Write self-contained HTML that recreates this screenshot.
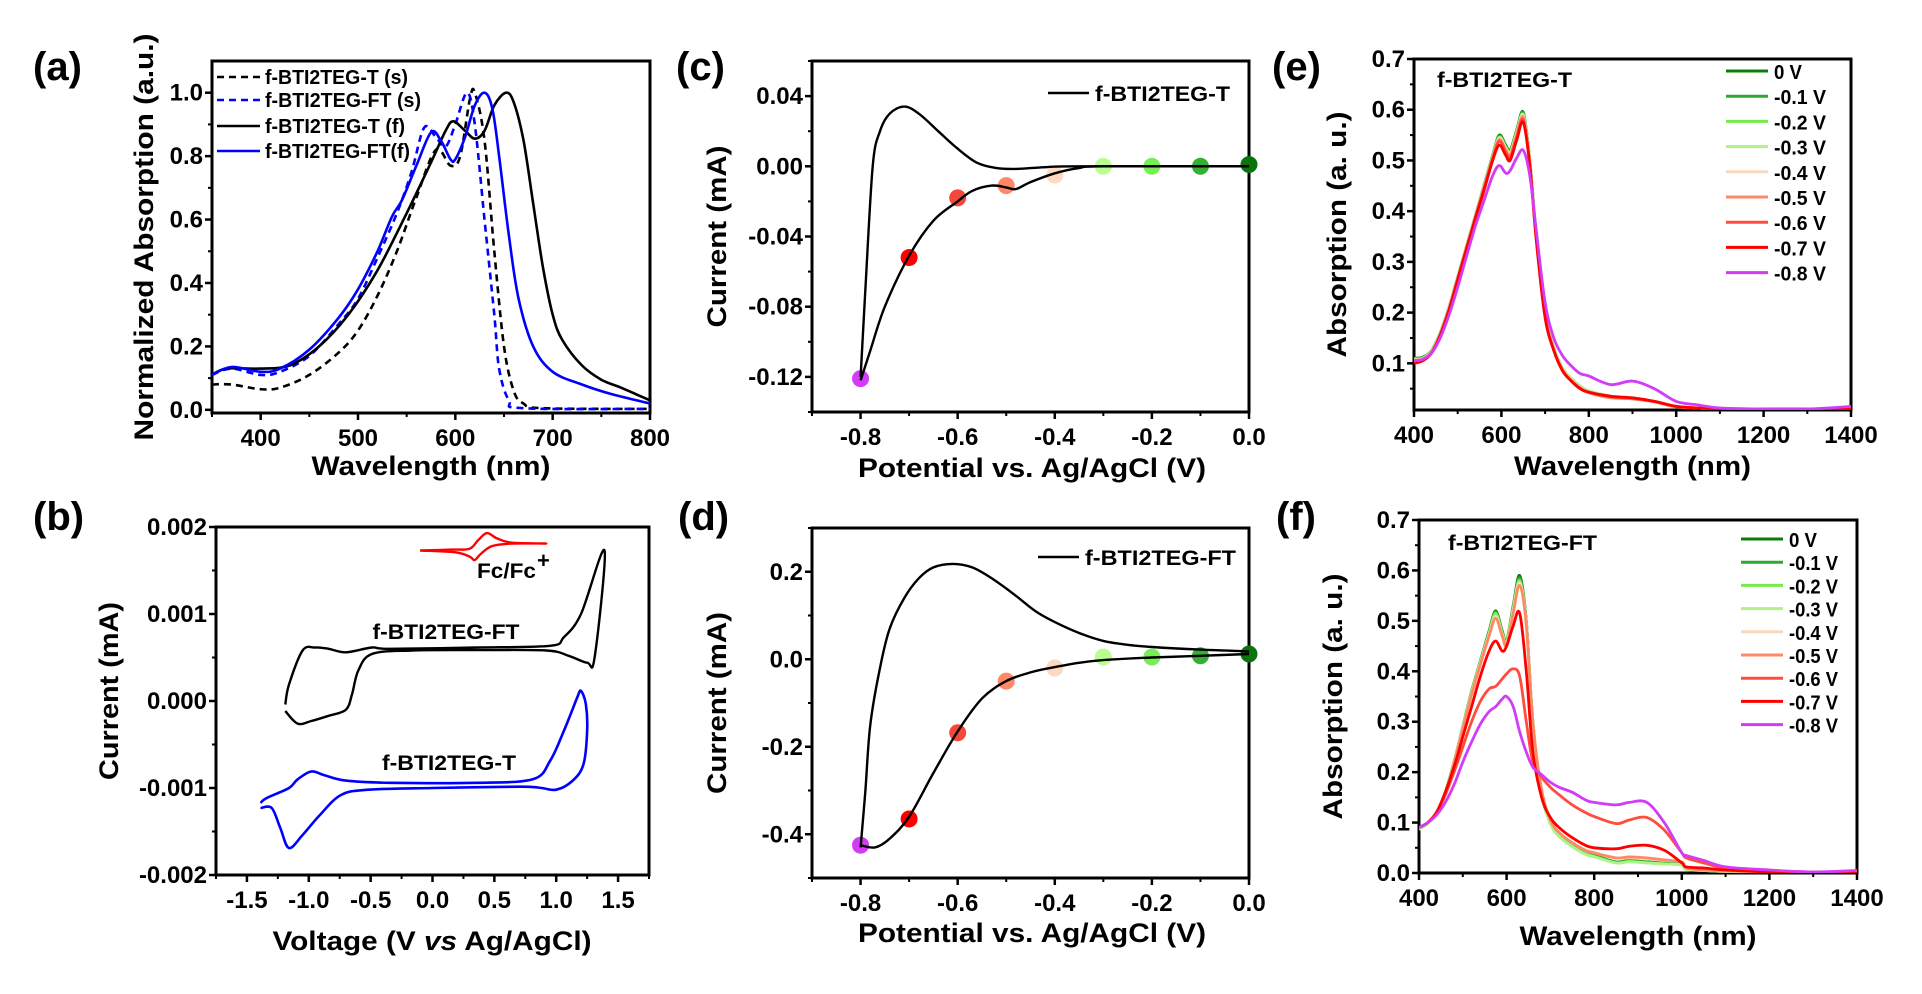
<!DOCTYPE html>
<html><head><meta charset="utf-8"><style>
html,body{margin:0;padding:0;background:#fff;}
svg{display:block;}
text{font-family:"Liberation Sans Narrow","Liberation Sans",sans-serif;font-weight:bold;fill:#000;}
.pl{font-family:"Liberation Sans",sans-serif;font-size:40px;}
</style></head><body>
<svg id="fig" xmlns="http://www.w3.org/2000/svg" width="1922" height="994" viewBox="0 0 1922 994">
<defs>
<clipPath id="clipE"><rect x="1414" y="59" width="437" height="351"/></clipPath>
<clipPath id="clipF"><rect x="1419" y="520" width="438" height="353"/></clipPath>
</defs>
</svg>
<script>
// ---------- Panel (a) data ----------
const aTsWl=[350,370,400,420,450,480,500,520,540,560,580,595,605,615,620,630,640,650,660,670,690,800];
const aTsAbs=[0.08,0.08,0.065,0.07,0.11,0.18,0.25,0.36,0.5,0.67,0.82,0.77,0.8,0.98,1.0,0.85,0.5,0.2,0.06,0.02,0.005,0.003];
const aFTsWl=[350,370,400,420,450,480,500,520,540,555,568,580,590,600,612,620,630,640,645,655,670,800];
const aFTsAbs=[0.11,0.13,0.11,0.12,0.17,0.27,0.35,0.48,0.62,0.75,0.89,0.86,0.83,0.9,1.0,0.9,0.6,0.3,0.13,0.03,0.005,0.003];
const aTfWl=[350,365,400,430,460,490,520,550,575,590,598,610,620,630,640,652,660,670,680,690,700,710,730,750,770,800];
const aTfAbs=[0.11,0.13,0.13,0.14,0.2,0.3,0.44,0.62,0.78,0.88,0.91,0.88,0.855,0.88,0.96,1.0,0.97,0.85,0.65,0.45,0.3,0.22,0.14,0.095,0.07,0.03];
const aFTfWl=[350,370,400,420,450,480,500,520,535,545,560,575,585,595,600,610,620,630,638,645,655,665,680,700,730,760,800];
const aFTfAbs=[0.11,0.135,0.12,0.13,0.19,0.29,0.38,0.5,0.61,0.66,0.77,0.875,0.85,0.79,0.79,0.86,0.96,1.0,0.95,0.8,0.55,0.35,0.2,0.12,0.08,0.05,0.02];
const aLegend=["f-BTI2TEG-T (s)","f-BTI2TEG-FT (s)","f-BTI2TEG-T (f)","f-BTI2TEG-FT(f)"];
const aXTicks=[400,500,600,700,800];
const aXLabels=["400","500","600","700","800"];
const aYTicks=[0,0.2,0.4,0.6,0.8,1.0];
const aYLabels=["0.0","0.2","0.4","0.6","0.8","1.0"];
// ---------- Panel (b) data (V, current in 1e-3 mA) ----------
const bFTV=[-1.19,-1.09,-0.98,-0.84,-0.70,-0.65,-0.60,-0.49,-0.17,0.36,0.92,1.10,1.25,1.31,1.39,1.20,1.06,0.95,0.36,-0.35,-0.49,-0.70,-0.84,-0.95,-1.05,-1.16,-1.19];
const bFTI=[-0.115,-0.26,-0.23,-0.17,-0.10,0.08,0.35,0.54,0.58,0.585,0.58,0.52,0.44,0.5,1.73,1.0,0.73,0.635,0.615,0.60,0.615,0.56,0.60,0.615,0.58,0.19,-0.04];
const bTV=[-1.39,-1.30,-1.23,-1.16,-1.05,-0.91,-0.74,-0.52,0.0,0.71,0.88,1.0,1.13,1.22,1.25,1.24,1.20,1.17,1.06,0.95,0.81,0.36,-0.35,-0.70,-0.88,-0.98,-1.09,-1.16,-1.34,-1.39];
const bTI=[-1.23,-1.23,-1.46,-1.69,-1.54,-1.31,-1.08,-1.02,-1.0,-0.985,-1.0,-1.02,-0.92,-0.73,-0.35,-0.04,0.115,0.04,-0.35,-0.69,-0.90,-0.94,-0.94,-0.915,-0.85,-0.81,-0.90,-1.0,-1.115,-1.17];
const bFcV=[-0.10,0.18,0.30,0.34,0.39,0.48,0.64,0.92,0.64,0.52,0.44,0.37,0.30,0.16,-0.10];
const bFcI=[1.73,1.71,1.66,1.62,1.69,1.78,1.81,1.81,1.82,1.87,1.93,1.85,1.75,1.74,1.73];
const bXTicks=[-1.5,-1.0,-0.5,0.0,0.5,1.0,1.5];
const bXLabels=["-1.5","-1.0","-0.5","0.0","0.5","1.0","1.5"];
const bYTicks=[-0.002,-0.001,0,0.001,0.002];
const bYLabels=["-0.002","-0.001","0.000","0.001","0.002"];
// ---------- Panel (c) data ----------
const cUpV=[-0.8,-0.79,-0.775,-0.76,-0.74,-0.71,-0.68,-0.64,-0.6,-0.56,-0.52,-0.48,-0.42,-0.35,0];
const cUpI=[-0.12,-0.07,0.0,0.02,0.03,0.034,0.03,0.02,0.01,0.002,-0.001,-0.0015,-0.0005,0,0];
const cDnV=[0,-0.3,-0.35,-0.4,-0.45,-0.48,-0.5,-0.53,-0.57,-0.6,-0.65,-0.7,-0.75,-0.78,-0.8];
const cDnI=[0,0,-0.001,-0.004,-0.009,-0.013,-0.012,-0.011,-0.014,-0.02,-0.031,-0.051,-0.08,-0.105,-0.122];
const dotV=[-0.8,-0.7,-0.6,-0.5,-0.4,-0.3,-0.2,-0.1,0.0];
const cDotI=[-0.121,-0.052,-0.018,-0.011,-0.005,0,0,0,0.001];
const dotColors=["#d23cf6","#ff0000","#f5483a","#ff8866","#fcd9c0","#b8ff90","#77ee55","#33b033","#0b730b"];
const cXTicks=[-0.8,-0.6,-0.4,-0.2,0.0];
const cXLabels=["-0.8","-0.6","-0.4","-0.2","0.0"];
const cYTicks=[-0.12,-0.08,-0.04,0,0.04];
const cYLabels=["-0.12","-0.08","-0.04","0.00","0.04"];
// ---------- Panel (d) data ----------
const dUpV=[-0.8,-0.79,-0.78,-0.76,-0.74,-0.71,-0.68,-0.65,-0.61,-0.57,-0.53,-0.48,-0.44,-0.4,-0.35,-0.3,-0.25,-0.2,-0.1,0];
const dUpI=[-0.43,-0.3,-0.15,-0.02,0.07,0.14,0.185,0.21,0.218,0.21,0.185,0.145,0.11,0.085,0.06,0.042,0.033,0.028,0.022,0.018];
const dDnV=[0,-0.1,-0.2,-0.3,-0.35,-0.4,-0.45,-0.5,-0.55,-0.6,-0.65,-0.7,-0.74,-0.77,-0.8];
const dDnI=[0.012,0.008,0.004,-0.002,-0.008,-0.018,-0.03,-0.05,-0.09,-0.165,-0.26,-0.36,-0.41,-0.43,-0.425];
const dDotI=[-0.425,-0.365,-0.168,-0.05,-0.02,0.005,0.005,0.008,0.012];
const dYTicks=[-0.4,-0.2,0,0.2];
const dYLabels=["-0.4","-0.2","0.0","0.2"];
// ---------- Panel (e) data ----------
const voltLabels=["0 V","-0.1 V","-0.2 V","-0.3 V","-0.4 V","-0.5 V","-0.6 V","-0.7 V","-0.8 V"];
const eWl=[400,420,440,460,480,500,520,540,560,580,595,610,620,635,650,665,680,700,720,740,760,780,800,850,900,950,1000,1050,1100,1200,1300,1400];
const eAbs0=[0.11,0.112,0.125,0.16,0.21,0.27,0.33,0.39,0.45,0.51,0.55,0.53,0.52,0.56,0.595,0.5,0.35,0.2,0.13,0.09,0.07,0.055,0.045,0.035,0.03,0.025,0.015,0.012,0.01,0.01,0.01,0.01];
const eAbs1=[0.11,0.112,0.125,0.16,0.21,0.27,0.33,0.39,0.45,0.51,0.548,0.528,0.518,0.558,0.593,0.5,0.35,0.2,0.13,0.09,0.07,0.055,0.045,0.035,0.03,0.025,0.015,0.012,0.01,0.01,0.01,0.01];
const eAbs2=[0.108,0.11,0.124,0.159,0.209,0.269,0.329,0.389,0.449,0.508,0.546,0.526,0.516,0.556,0.59,0.498,0.349,0.2,0.13,0.09,0.07,0.055,0.045,0.035,0.03,0.025,0.015,0.012,0.01,0.01,0.01,0.01];
const eAbs3=[0.108,0.11,0.124,0.159,0.209,0.269,0.329,0.389,0.448,0.507,0.545,0.525,0.515,0.555,0.59,0.498,0.349,0.2,0.13,0.09,0.07,0.055,0.045,0.035,0.03,0.025,0.015,0.012,0.01,0.01,0.01,0.01];
const eAbs4=[0.107,0.109,0.123,0.158,0.208,0.268,0.328,0.388,0.447,0.506,0.543,0.523,0.513,0.553,0.588,0.497,0.348,0.198,0.128,0.088,0.068,0.053,0.043,0.033,0.03,0.025,0.015,0.012,0.01,0.01,0.01,0.01];
const eAbs5=[0.106,0.108,0.122,0.157,0.207,0.267,0.327,0.387,0.446,0.505,0.541,0.52,0.51,0.55,0.585,0.495,0.346,0.196,0.127,0.087,0.066,0.052,0.042,0.032,0.03,0.024,0.014,0.012,0.01,0.01,0.01,0.01];
const eAbs6=[0.104,0.107,0.121,0.156,0.206,0.266,0.326,0.386,0.444,0.503,0.538,0.517,0.506,0.546,0.58,0.493,0.344,0.194,0.126,0.086,0.066,0.051,0.043,0.034,0.031,0.025,0.015,0.012,0.01,0.01,0.01,0.01];
const eAbs7=[0.10,0.105,0.12,0.155,0.205,0.265,0.325,0.385,0.44,0.5,0.53,0.51,0.50,0.54,0.575,0.49,0.34,0.19,0.125,0.085,0.065,0.05,0.043,0.035,0.032,0.025,0.015,0.012,0.01,0.01,0.01,0.01];
const eAbs8=[0.105,0.108,0.12,0.15,0.195,0.25,0.31,0.37,0.42,0.47,0.49,0.475,0.48,0.505,0.52,0.47,0.36,0.22,0.15,0.115,0.095,0.08,0.075,0.058,0.065,0.05,0.025,0.018,0.012,0.01,0.01,0.015];
const eSeries=[eAbs0,eAbs1,eAbs2,eAbs3,eAbs4,eAbs5,eAbs6,eAbs7,eAbs8];
const specXTicks=[400,600,800,1000,1200,1400];
const specXLabels=["400","600","800","1000","1200","1400"];
const eYTicks=[0.1,0.2,0.3,0.4,0.5,0.6,0.7];
const eYLabels=["0.1","0.2","0.3","0.4","0.5","0.6","0.7"];
// ---------- Panel (f) data ----------
const fWl=[400,420,440,460,480,500,520,540,560,575,590,600,615,630,645,660,680,700,720,750,780,800,850,880,920,960,1000,1010,1050,1100,1200,1300,1400];
const fAbs0=[0.09,0.1,0.12,0.16,0.22,0.29,0.36,0.42,0.48,0.52,0.48,0.46,0.53,0.59,0.5,0.3,0.16,0.1,0.075,0.055,0.04,0.035,0.022,0.025,0.022,0.02,0.018,0.008,0.005,0.003,0.001,0.001,0.002];
const fAbs1=[0.09,0.1,0.12,0.16,0.22,0.29,0.36,0.42,0.478,0.518,0.478,0.458,0.528,0.585,0.498,0.3,0.16,0.1,0.075,0.055,0.04,0.035,0.022,0.025,0.022,0.02,0.018,0.008,0.005,0.003,0.001,0.001,0.002];
const fAbs2=[0.088,0.099,0.119,0.159,0.219,0.289,0.358,0.418,0.476,0.515,0.476,0.456,0.525,0.58,0.496,0.298,0.158,0.098,0.073,0.053,0.038,0.033,0.02,0.023,0.02,0.018,0.016,0.007,0.005,0.003,0.001,0.001,0.002];
const fAbs3=[0.086,0.098,0.118,0.158,0.218,0.288,0.356,0.416,0.474,0.51,0.474,0.455,0.522,0.575,0.494,0.296,0.156,0.097,0.072,0.052,0.037,0.032,0.02,0.022,0.02,0.018,0.016,0.007,0.005,0.003,0.001,0.001,0.002];
const fAbs4=[0.09,0.1,0.12,0.158,0.218,0.288,0.355,0.415,0.472,0.508,0.472,0.455,0.52,0.575,0.495,0.3,0.165,0.105,0.08,0.06,0.045,0.04,0.03,0.03,0.028,0.025,0.022,0.01,0.006,0.004,0.002,0.001,0.002];
const fAbs5=[0.09,0.1,0.12,0.158,0.217,0.286,0.353,0.413,0.47,0.505,0.47,0.452,0.515,0.57,0.492,0.298,0.165,0.105,0.08,0.06,0.045,0.04,0.03,0.032,0.03,0.026,0.022,0.01,0.006,0.004,0.002,0.001,0.002];
const fAbs6=[0.09,0.1,0.12,0.155,0.2,0.25,0.3,0.34,0.365,0.37,0.385,0.395,0.405,0.39,0.3,0.22,0.19,0.17,0.155,0.135,0.12,0.112,0.098,0.105,0.11,0.085,0.04,0.03,0.02,0.01,0.005,0.002,0.002];
const fAbs7=[0.09,0.1,0.12,0.16,0.21,0.27,0.33,0.39,0.44,0.46,0.44,0.45,0.49,0.515,0.4,0.24,0.15,0.11,0.09,0.07,0.055,0.05,0.048,0.053,0.055,0.045,0.02,0.012,0.01,0.006,0.002,0.001,0.002];
const fAbs8=[0.09,0.1,0.115,0.14,0.175,0.22,0.26,0.295,0.32,0.33,0.345,0.35,0.33,0.28,0.24,0.21,0.195,0.18,0.17,0.16,0.145,0.14,0.135,0.14,0.14,0.1,0.04,0.035,0.025,0.012,0.006,0.002,0.005];
const fSeries=[fAbs0,fAbs1,fAbs2,fAbs3,fAbs4,fAbs5,fAbs6,fAbs7,fAbs8];
const fYTicks=[0,0.1,0.2,0.3,0.4,0.5,0.6,0.7];
const fYLabels=["0.0","0.1","0.2","0.3","0.4","0.5","0.6","0.7"];
const specColors=["#0a7d0a","#2fa82f","#74ec4e","#aef28a","#f9d8c0","#ff8866","#ff4d3d","#ff0000","#d23cf6"];

// ---------- helpers ----------
const NS="http://www.w3.org/2000/svg";
const svg=document.getElementById('fig');
function mk(tag,parent){const e=document.createElementNS(NS,tag);(parent||svg).appendChild(e);return e;}
function set(e,o){for(const k in o)e.setAttribute(k,o[k]);return e;}
function scale(p0,p1,v0,v1){return v=>p0+(v-v0)/(v1-v0)*(p1-p0);}
function smooth(pts){
  let d='M'+pts[0][0].toFixed(1)+','+pts[0][1].toFixed(1);
  for(let i=0;i<pts.length-1;i++){
    const p0=pts[i-1]||pts[i],p1=pts[i],p2=pts[i+1],p3=pts[i+2]||pts[i+1];
    const c1=[p1[0]+(p2[0]-p0[0])/6,p1[1]+(p2[1]-p0[1])/6];
    const c2=[p2[0]-(p3[0]-p1[0])/6,p2[1]-(p3[1]-p1[1])/6];
    d+='C'+c1[0].toFixed(1)+','+c1[1].toFixed(1)+' '+c2[0].toFixed(1)+','+c2[1].toFixed(1)+' '+p2[0].toFixed(1)+','+p2[1].toFixed(1);
  }
  return d;
}
function text(parent,str,x,y,size,anchor,len){
  const t=mk('text',parent);
  set(t,{x:x,y:y,'font-size':size,'text-anchor':anchor||'start'});
  if(len){t.setAttribute('textLength',len);t.setAttribute('lengthAdjust','spacingAndGlyphs');}
  t.textContent=str;return t;
}
function buildAxes(g,P,xT,xL,xMinor,yT,yL,yMinor){
  const fr=mk('rect',g);
  set(fr,{x:P.x0,y:P.y0,width:P.x1-P.x0,height:P.y1-P.y0,fill:'none',stroke:'#000','stroke-width':3});
  
  
  const X=scale(P.x0,P.x1,P.xr[0],P.xr[1]),Y=scale(P.y1,P.y0,P.yr[0],P.yr[1]);
  xT.forEach((v,i)=>{
    const l=mk('line',g);set(l,{x1:X(v),x2:X(v),y1:P.y1,y2:P.y1+7,stroke:'#000','stroke-width':2.5});
    const t=text(g,xL[i],X(v),P.y1+33,24,'middle');
    
    
  });
  xMinor.forEach(v=>{const l=mk('line',g);set(l,{x1:X(v),x2:X(v),y1:P.y1,y2:P.y1+4,stroke:'#000','stroke-width':2});});
  yT.forEach((v,i)=>{
    const l=mk('line',g);set(l,{x1:P.x0-7,x2:P.x0,y1:Y(v),y2:Y(v),stroke:'#000','stroke-width':2.5});
    const t=text(g,yL[i],P.x0-9,Y(v)+8,24,'end');
    
    
  });
  yMinor.forEach(v=>{const l=mk('line',g);set(l,{x1:P.x0-4,x2:P.x0,y1:Y(v),y2:Y(v),stroke:'#000','stroke-width':2});});
  return [X,Y];
}
function ytitle(g,str,cx,cy,len){
  const t=text(g,str,0,0,27,'middle',len);
  t.setAttribute('transform','translate('+(cx+10)+','+cy+') rotate(-90)');
  return t;
}
function curve(g,X,Y,xs,ys,color,w,dash){
  const p=mk('path',g);
  set(p,{d:smooth(xs.map((v,i)=>[X(v),Y(ys[i])])),fill:'none',stroke:color,'stroke-width':w,'stroke-linejoin':'round'});
  if(dash)p.setAttribute('stroke-dasharray',dash);
  return p;
}
function range(a,b,s){const r=[];for(let v=a;v<=b+1e-9;v+=s)r.push(+v.toFixed(6));return r;}

// ---------- Panel labels ----------
[["(a)",33,80],["(b)",33,530],["(c)",676,80],["(d)",678,530],["(e)",1272,80],["(f)",1276,530]].forEach(p=>{
  const t=text(svg,p[0],p[1],p[2],40,'start');
  t.setAttribute('class','pl');
  
  
});

// ---------- Panel (a) ----------
{
const g=mk('g');


const P={x0:212,x1:650,y0:61,y1:413,xr:[350,800],yr:[-0.01,1.1]};
const [X,Y]=buildAxes(g,P,aXTicks,aXLabels,range(350,750,50),aYTicks,aYLabels,range(0.1,0.9,0.2));
const yt=ytitle(g,"Normalized Absorption (a.u.)",143,237,407);


const xt=text(g,"Wavelength (nm)",431,475,27,'middle',239);


const s1=curve(g,X,Y,aTsWl,aTsAbs,'#000',2.6,'7,5');


const s2=curve(g,X,Y,aFTsWl,aFTsAbs,'#0000ff',2.6,'7,5');


const s3=curve(g,X,Y,aTfWl,aTfAbs,'#000',2.6);


const s4=curve(g,X,Y,aFTfWl,aFTfAbs,'#0000ff',2.6);


const lc=['#000','#0000ff','#000','#0000ff'],ld=['7,5','7,5',null,null],ly=[77,100,126,151],lw=[143,156,140,145];
aLegend.forEach((s,i)=>{
  const l=mk('line',g);set(l,{x1:217,x2:260,y1:ly[i],y2:ly[i],stroke:lc[i],'stroke-width':2.6});
  if(ld[i])l.setAttribute('stroke-dasharray',ld[i]);
  
  
  const t=text(g,s,265,ly[i]+7,20,'start',lw[i]);
  
  
});
}

// ---------- Panel (b) ----------
{
const g=mk('g');


const P={x0:216,x1:649,y0:527,y1:875,xr:[-1.75,1.75],yr:[-0.002,0.002]};
const [X,Y]=buildAxes(g,P,bXTicks,bXLabels,range(-1.75,1.75,0.25),bYTicks,bYLabels,range(-0.0015,0.0015,0.001));
const yt=ytitle(g,"Current (mA)",108,691,178);


const xt=mk('text',g);set(xt,{x:432,y:950,'font-size':27,'text-anchor':'middle',textLength:319,lengthAdjust:'spacingAndGlyphs'});
xt.innerHTML='Voltage (V <tspan font-style="italic">vs</tspan> Ag/AgCl)';


const Ym=v=>Y(v*0.001);
const s1=curve(g,X,Ym,bFTV,bFTI,'#000',2.4);


const s2=curve(g,X,Ym,bTV,bTI,'#0000ff',2.6);


const s3=curve(g,X,Ym,bFcV,bFcI,'#ff0000',2.4);


const t1=text(g,"f-BTI2TEG-FT",446,639,21,'middle',147);


const t2=text(g,"f-BTI2TEG-T",449,770,21,'middle',134);


const t3=text(g,"Fc/Fc",477,578,21,'start',59);


const t4=text(g,"+",537,568,22,'start');


}

// ---------- Panels (c) and (d) ----------
function cvPanel(name,P,yT,yL,yMinor,upV,upI,dnV,dnI,dotI,legend,legY,legX0,legX1,legTx,legLen,titleY){
  const g=mk('g');
  
  
  const [X,Y]=buildAxes(g,P,cXTicks,cXLabels,range(-0.9,-0.1,0.2),yT,yL,yMinor);
  const yt=ytitle(g,"Current (mA)",P.x0-96,(P.y0+P.y1)/2,182);
  
  
  const xt=text(g,"Potential vs. Ag/AgCl (V)",1032,titleY,27,'middle',348);
  
  
  dotV.forEach((v,i)=>{
    const c=mk('circle',g);set(c,{cx:X(v),cy:Y(dotI[i]),r:8.5,fill:dotColors[i]});
    
    
  });
  const a=curve(g,X,Y,upV,upI,'#000',2.4);
  
  
  const b=curve(g,X,Y,dnV,dnI,'#000',2.4);
  
  
  const l=mk('line',g);set(l,{x1:legX0,x2:legX1,y1:legY,y2:legY,stroke:'#000','stroke-width':2.6});
  
  
  const t=text(g,legend,legTx,legY+8,21,'start',legLen);
  
  
}
cvPanel('panel-c-cv-t',{x0:812,x1:1249,y0:61,y1:412,xr:[-0.9,0],yr:[-0.14,0.06]},cYTicks,cYLabels,range(-0.14,0.06,0.04),cUpV,cUpI,cDnV,cDnI,cDotI,"f-BTI2TEG-T",93,1048,1089,1095,135,477);
cvPanel('panel-d-cv-ft',{x0:812,x1:1249,y0:528,y1:878,xr:[-0.9,0],yr:[-0.5,0.3]},dYTicks,dYLabels,range(-0.5,0.3,0.2),dUpV,dUpI,dDnV,dDnI,dDotI,"f-BTI2TEG-FT",557,1038,1079,1085,151,942);

// ---------- Panels (e) and (f) ----------
function specPanel(name,P,yT,yL,yMinor,wl,series,clip,title,titleX,titleY,titleLen,ytX,xtY,legX0,legY0,legStep,legLen0){
  const g=mk('g');
  
  
  const [X,Y]=buildAxes(g,P,specXTicks,specXLabels,range(500,1300,200),yT,yL,yMinor);
  const yt=ytitle(g,"Absorption (a. u.)",ytX,(P.y0+P.y1)/2,246);
  
  
  const xt=text(g,"Wavelength (nm)",(P.x0+P.x1)/2,xtY,27,'middle',237);
  
  
  const cg=mk('g',g);cg.setAttribute('clip-path','url(#'+clip+')');
  series.forEach((s,i)=>{
    const p=curve(cg,X,Y,wl,s,specColors[i],2.8);
    
    
  });
  const tt=text(g,title,titleX,titleY,21,'start',titleLen);
  
  
  voltLabels.forEach((s,i)=>{
    const y=legY0+i*legStep;
    const l=mk('line',g);set(l,{x1:legX0,x2:legX0+42,y1:y,y2:y,stroke:specColors[i],'stroke-width':3});
    
    
    const t=text(g,s,legX0+48,y+8,20,'start',i===0?28:legLen0);
    
    
  });
}
specPanel('panel-e-spectra-t',{x0:1414,x1:1851,y0:59,y1:410,xr:[400,1400],yr:[0.008,0.7]},eYTicks,eYLabels,range(0.05,0.65,0.1),eWl,eSeries,'clipE',"f-BTI2TEG-T",1437,87,135,1336,475,1726,71,25.2,52);
specPanel('panel-f-spectra-ft',{x0:1419,x1:1857,y0:520,y1:873,xr:[400,1400],yr:[0,0.7]},fYTicks,fYLabels,range(0.05,0.65,0.1),fWl,fSeries,'clipF',"f-BTI2TEG-FT",1448,550,149,1332,945,1741,539,23.2,49);
</script>
</body></html>
